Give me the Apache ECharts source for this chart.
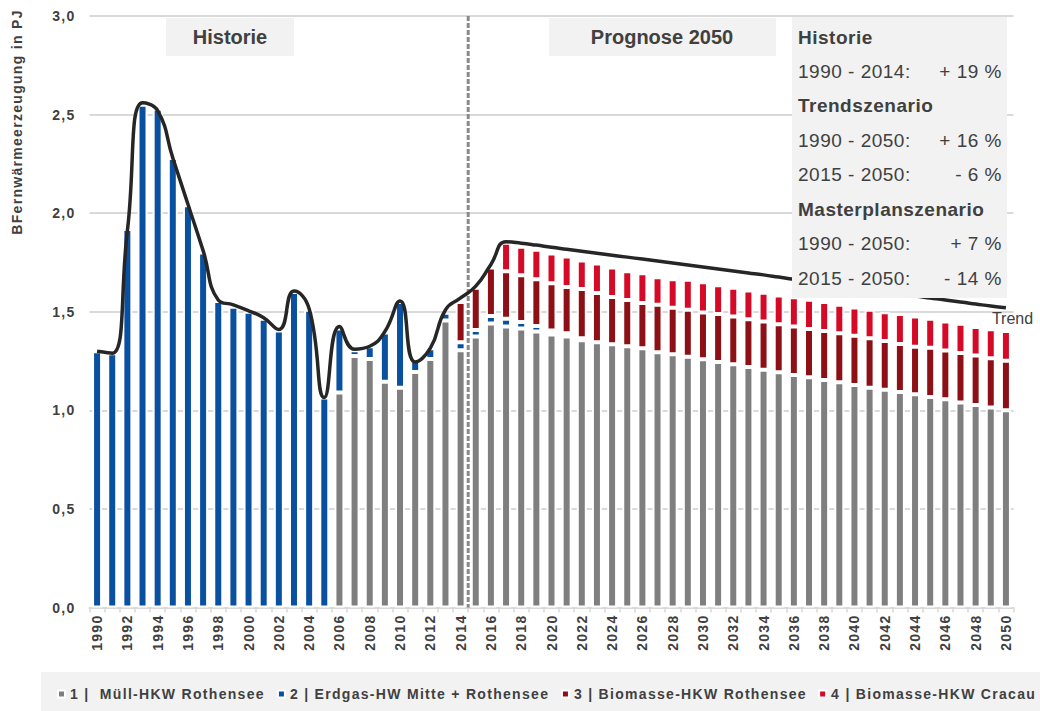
<!DOCTYPE html>
<html>
<head>
<meta charset="utf-8">
<script src="https://cdn.jsdelivr.net/npm/echarts@6/dist/echarts.min.js"></script>
<style>
  html, body { margin: 0; padding: 0; background: #fff; }
  #chart { width: 1040px; height: 711px; }
  #chart text { white-space: pre; }
  /* the small bold labels are set with a little tracking */
  #chart text[style*="14px"] { letter-spacing: 1.3px; }
  #chart text[style*="19px"] { letter-spacing: 0.5px; }
</style>
</head>
<body>
<div id="chart"></div>
<script>
// Fernwärmeerzeugung Magdeburg 1990-2050 in PJ
const years = [
  '1990','1991','1992','1993','1994','1995','1996','1997','1998','1999',
  '2000','2001','2002','2003','2004','2005','2006','2007','2008','2009',
  '2010','2011','2012','2013','2014','2015','2016','2017','2018','2019',
  '2020','2021','2022','2023','2024','2025','2026','2027','2028','2029',
  '2030','2031','2032','2033','2034','2035','2036','2037','2038','2039',
  '2040','2041','2042','2043','2044','2045','2046','2047','2048','2049',
  '2050'
];

const seriesNames = [
  '1 |  Müll-HKW Rothensee',
  '2 | Erdgas-HW Mitte + Rothensee',
  '3 | Biomasse-HKW Rothensee',
  '4 | Biomasse-HKW Cracau'
];

// 1 | Müll-HKW Rothensee
const muell = [
  null, null, null, null, null, null, null, null, null, null,
  null, null, null, null, null, null, 1.09, 1.275, 1.26, 1.145,
  1.115, 1.195, 1.26, 1.455, 1.305, 1.375, 1.44, 1.425, 1.415, 1.40,
  1.385, 1.375, 1.355, 1.345, 1.335, 1.325, 1.315, 1.295, 1.285, 1.272,
  1.259, 1.245, 1.234, 1.22, 1.206, 1.193, 1.179, 1.168, 1.154, 1.142,
  1.128, 1.115, 1.105, 1.093, 1.081, 1.068, 1.056, 1.04, 1.027, 1.015,
  1.001
];

// 2 | Erdgas-HW Mitte + Rothensee
const erdgas = [
  1.30, 1.29, 1.92, 2.55, 2.53, 2.28, 2.04, 1.80, 1.555, 1.525,
  1.50, 1.465, 1.405, 1.60, 1.51, 1.065, 0.325, 0.03, 0.065, 0.25,
  0.435, 0.055, 0.055, 0.04, 0.04, 0.032, 0.038, 0.04, 0.033, 0.028,
  0.02, 0.016, 0.01, null, null, null, null, null, null, null,
  null, null, null, null, null, null, null, null, null, null,
  null, null, null, null, null, null, null, null, null, null,
  null
];

// 3 | Biomasse-HKW Rothensee
const bioRothensee = [
  null, null, null, null, null, null, null, null, null, null,
  null, null, null, null, null, null, null, null, null, null,
  null, null, null, null, 0.205, 0.215, 0.247, 0.24, 0.237, 0.237,
  0.24, 0.234, 0.25, 0.25, 0.24, 0.235, 0.23, 0.24, 0.235, 0.238,
  0.237, 0.244, 0.242, 0.242, 0.244, 0.244, 0.246, 0.244, 0.249, 0.249,
  0.25, 0.251, 0.247, 0.244, 0.242, 0.25, 0.247, 0.251, 0.251, 0.249,
  0.251
];

// 4 | Biomasse-HKW Cracau
const bioCracau = [
  null, null, null, null, null, null, null, null, null, null,
  null, null, null, null, null, null, null, null, null, null,
  null, null, null, null, null, null, 0.02, 0.145, 0.145, 0.15,
  0.15, 0.155, 0.145, 0.15, 0.15, 0.145, 0.15, 0.14, 0.145, 0.152,
  0.153, 0.146, 0.146, 0.146, 0.146, 0.146, 0.149, 0.149, 0.147, 0.144,
  0.144, 0.144, 0.146, 0.152, 0.153, 0.146, 0.147, 0.148, 0.145, 0.147,
  0.151
];

// Gesamterzeugung bis 2016, danach Trendszenario
const trend = [
  1.30, 1.29, 1.91, 2.56, 2.52, 2.28, 2.045, 1.81, 1.56, 1.535,
  1.505, 1.47, 1.41, 1.605, 1.515, 1.065, 1.425, 1.31, 1.325, 1.40,
  1.555, 1.245, 1.315, 1.51, 1.57, 1.63, 1.74, 1.855, 1.848, 1.838,
  1.827, 1.817, 1.807, 1.797, 1.787, 1.777, 1.767, 1.757, 1.747, 1.737,
  1.727, 1.717, 1.707, 1.697, 1.687, 1.676, 1.665, 1.655, 1.645, 1.634,
  1.623, 1.612, 1.602, 1.591, 1.58, 1.57, 1.56, 1.549, 1.539, 1.529,
  1.52
];

const yTicks = [0, 0.5, 1.0, 1.5, 2.0, 2.5, 3.0];

const summaryRows = [
  ['Historie', '', true],
  ['1990 - 2014:', '+ 19 %', false],
  ['Trendszenario', '', true],
  ['1990 - 2050:', '+ 16 %', false],
  ['2015 - 2050:', '- 6 %', false],
  ['Masterplanszenario', '', true],
  ['1990 - 2050:', '+ 7 %', false],
  ['2015 - 2050:', '- 14 %', false]
];

const TXT = '#404040';
const FONT = 'Liberation Sans';
const COLORS = ['#7f7f7f', '#0a50a1', '#8c1016', '#d50a27'];

const chart = echarts.init(document.getElementById('chart'), null, {
  renderer: 'svg', width: 1040, height: 711
});

function barSeries(i, values) {
  return {
    type: 'bar',
    name: seriesNames[i],
    stack: 'total',
    barWidth: 10,
    data: values,
    itemStyle: { color: COLORS[i], borderColor: '#fff', borderWidth: 2 }
  };
}

// extra room after a legend entry, so the tracked text keeps its gap
function legendEntry(name, extra) {
  return extra ? {
    name: name,
    textStyle: { padding: [0, extra, 0, 0], backgroundColor: 'rgba(0,0,0,0)' }
  } : { name: name };
}

chart.setOption({
  animation: false,
  backgroundColor: '#fff',
  textStyle: { fontFamily: FONT },
  grid: { left: 89.5, right: 26.5, top: 16, bottom: 103.5 },
  legend: {
    data: [
      legendEntry(seriesNames[0], 0),
      legendEntry(seriesNames[1], 10),
      legendEntry(seriesNames[2], 3),
      legendEntry(seriesNames[3], 0)
    ],
    left: 57, top: 687, padding: 0, width: 2000,
    icon: 'rect', itemWidth: 7, itemHeight: 7, itemGap: 42,
    textStyle: { color: TXT, fontWeight: 'bold', fontSize: 14, fontFamily: FONT }
  },
  xAxis: {
    type: 'category',
    data: years,
    axisLine: { lineStyle: { color: '#d9d9d9', width: 2 } },
    axisTick: { show: true, interval: 0, length: 5, lineStyle: { color: '#d9d9d9', width: 1.5 } },
    axisLabel: {
      interval: 1, rotate: 90, margin: 7,
      color: TXT, fontWeight: 'bold', fontSize: 14, fontFamily: FONT
    }
  },
  yAxis: {
    type: 'value',
    min: yTicks[0], max: yTicks[yTicks.length - 1], interval: 0.5,
    axisLine: { show: false },
    axisTick: { show: false },
    splitLine: { lineStyle: { color: '#d9d9d9', width: 2 } },
    axisLabel: {
      margin: 14, color: TXT, fontWeight: 'bold', fontSize: 14, fontFamily: FONT,
      formatter: v => v.toFixed(1).replace('.', ',')
    }
  },
  series: [
    barSeries(0, muell),
    barSeries(1, erdgas),
    barSeries(2, bioRothensee),
    barSeries(3, bioCracau),
    {
      type: 'line',
      name: 'Trend',
      data: trend,
      smooth: 0.5,
      symbol: 'none',
      z: 3,
      lineStyle: { color: '#262626', width: 3.5 },
      itemStyle: { color: '#262626' },
      endLabel: {
        show: true, formatter: 'Trend', offset: [-22, 11],
        color: TXT, fontSize: 16, fontFamily: FONT
      }
    }
  ]
});

// Trennlinie zwischen Historie und Prognose
const x2014 = chart.convertToPixel({ xAxisIndex: 0 }, '2014');
const x2015 = chart.convertToPixel({ xAxisIndex: 0 }, '2015');
const yTop = chart.convertToPixel({ yAxisIndex: 0 }, yTicks[yTicks.length - 1]);
const yBottom = chart.convertToPixel({ yAxisIndex: 0 }, yTicks[0]);
const xSplit = (x2014 + x2015) / 2;

const graphics = [
  // Legendenband
  { type: 'rect', z: 0, shape: { x: 41, y: 672, width: 999, height: 39 }, style: { fill: '#f2f2f2' } },
  // Achsentitel
  {
    type: 'text', z: 5, x: 16.5, y: 122, rotation: Math.PI / 2,
    style: { text: 'BFernwärmeerzeugung in PJ', fill: TXT, font: 'bold 14px Liberation Sans', textAlign: 'center', textVerticalAlign: 'middle' }
  },
  // gestrichelte Trennlinie
  {
    type: 'line', z: 2,
    shape: { x1: xSplit, y1: yTop, x2: xSplit, y2: yBottom },
    style: { stroke: '#8a8a8a', lineWidth: 3, lineDash: [5, 2] }
  },
  // Abschnittsüberschriften
  { type: 'rect', z: 5, shape: { x: 166, y: 18, width: 128, height: 38 }, style: { fill: '#f2f2f2' } },
  { type: 'text', z: 6, style: { text: 'Historie', x: 230, y: 37, fill: TXT, font: 'bold 20px Liberation Sans', textAlign: 'center', textVerticalAlign: 'middle' } },
  { type: 'rect', z: 5, shape: { x: 549, y: 18, width: 227, height: 38 }, style: { fill: '#f2f2f2' } },
  { type: 'text', z: 6, style: { text: 'Prognose 2050', x: 662, y: 37, fill: TXT, font: 'bold 20px Liberation Sans', textAlign: 'center', textVerticalAlign: 'middle' } },
  // Kennzahlen-Kasten
  { type: 'rect', z: 100, shape: { x: 792, y: 17, width: 215, height: 281 }, style: { fill: '#f2f2f2' } }
];

summaryRows.forEach((row, i) => {
  const y = 37 + i * 34.45;
  graphics.push({
    type: 'text', z: 101,
    style: {
      text: row[0], x: 798, y: y, fill: TXT,
      font: (row[2] ? 'bold ' : '') + '19px Liberation Sans',
      textAlign: 'left', textVerticalAlign: 'middle'
    }
  });
  if (row[1]) {
    graphics.push({
      type: 'text', z: 101,
      style: {
        text: row[1], x: 1002, y: y, fill: TXT,
        font: '19px Liberation Sans', textAlign: 'right', textVerticalAlign: 'middle'
      }
    });
  }
});

chart.setOption({ graphic: graphics });
</script>
</body>
</html>
